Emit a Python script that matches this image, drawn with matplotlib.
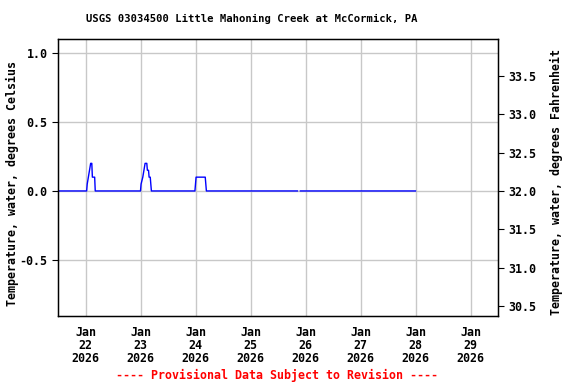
import matplotlib
matplotlib.use('Agg')
import matplotlib.pyplot as plt
import numpy as np
import pandas as pd

# breakpoints of the water temperature record (deg C)
times = ['2026-01-21 11:00', '2026-01-22 00:30', '2026-01-22 00:45', '2026-01-22 01:15',
         '2026-01-22 01:45', '2026-01-22 02:15', '2026-01-22 02:45', '2026-01-22 03:00',
         '2026-01-22 04:00', '2026-01-22 04:15',
         '2026-01-23 00:00', '2026-01-23 00:15', '2026-01-23 01:00', '2026-01-23 01:30',
         '2026-01-23 02:00', '2026-01-23 02:45', '2026-01-23 03:00', '2026-01-23 03:30',
         '2026-01-23 03:45', '2026-01-23 04:15', '2026-01-23 04:30', '2026-01-23 04:45',
         '2026-01-23 23:45', '2026-01-24 00:00', '2026-01-24 00:15', '2026-01-24 04:15',
         '2026-01-24 04:30', '2026-01-24 04:45',
         '2026-01-25 20:30', '2026-01-25 21:00', '2026-01-25 21:45',
         '2026-01-28 00:00']
temps = [0.0, 0.0, 0.05, 0.1,
         0.15, 0.2, 0.2, 0.1,
         0.1, 0.0,
         0.0, 0.05, 0.1, 0.15,
         0.2, 0.2, 0.15, 0.15,
         0.1, 0.1, 0.05, 0.0,
         0.0, 0.05, 0.1, 0.1,
         0.05, 0.0,
         0.0, np.nan, 0.0,
         0.0]

day_ticks = pd.date_range('2026-01-22', '2026-01-29', freq='D')
left_ticks = [-0.5, 0.0, 0.5, 1.0]
right_ticks = [30.5, 31.0, 31.5, 32.0, 32.5, 33.0, 33.5]

title = 'USGS 03034500 Little Mahoning Creek at McCormick, PA'
ylab_left = 'Temperature, water, degrees Celsius'
ylab_right = 'Temperature, water, degrees Fahrenheit'
note = '---- Provisional Data Subject to Revision ----'

plt.rcParams['font.family'] = 'DejaVu Sans Mono'
plt.rcParams['font.weight'] = 'bold'
fs_small = 7.6   # title
fs_big = 8.4     # ticks, axis labels and footer

fig = plt.figure(figsize=(5.76, 3.84), dpi=100)
ax = fig.add_axes([58 / 576, 1 - 316 / 384, 440 / 576, 277 / 384])

t = pd.to_datetime(times)
ax.plot(t, temps, color='#0000ff', lw=1.0)

ax.set_xlim(pd.Timestamp('2026-01-21 12:00'), pd.Timestamp('2026-01-29 12:00'))
ylo, yhi = -0.906, 1.101
ax.set_ylim(ylo, yhi)

ax.set_xticks(day_ticks)
ax.set_xticklabels([d.strftime('Jan\n%d\n%Y') for d in day_ticks], fontsize=fs_big,
                   fontweight='bold', linespacing=1.0)
ax.tick_params(axis='x', length=0, pad=7)
ax.set_yticks(left_ticks)
ax.set_yticklabels(['%.1f' % v for v in left_ticks], fontsize=fs_big, fontweight='bold')
ax.tick_params(axis='y', length=4, direction='out')
ax.grid(True, color='#c8c8c8', lw=1.0)
ax.set_axisbelow(True)
for s in ax.spines.values():
    s.set_linewidth(1.0)

ax2 = ax.twinx()
ax2.set_ylim(ylo * 1.8 + 32, yhi * 1.8 + 32)
ax2.set_yticks(right_ticks)
ax2.set_yticklabels(['%.1f' % v for v in right_ticks], fontsize=fs_big, fontweight='bold')
ax2.tick_params(axis='y', length=4, direction='out')

fig.text(12 / 576, 1 - 183 / 384, ylab_left, rotation=90, ha='center', va='center',
         fontsize=fs_big, fontweight='bold')
fig.text(556 / 576, 1 - 182 / 384, ylab_right, rotation=90, ha='center', va='center',
         fontsize=fs_big, fontweight='bold')

fig.text(252 / 576, 1 - 19 / 384, title, ha='center', va='center', fontsize=fs_small,
         fontweight='bold')
fig.text(277 / 576, 1 - 375 / 384, note, ha='center', va='center', fontsize=fs_big,
         fontweight='bold', color='red')

fig.savefig('out.png', dpi=100)
